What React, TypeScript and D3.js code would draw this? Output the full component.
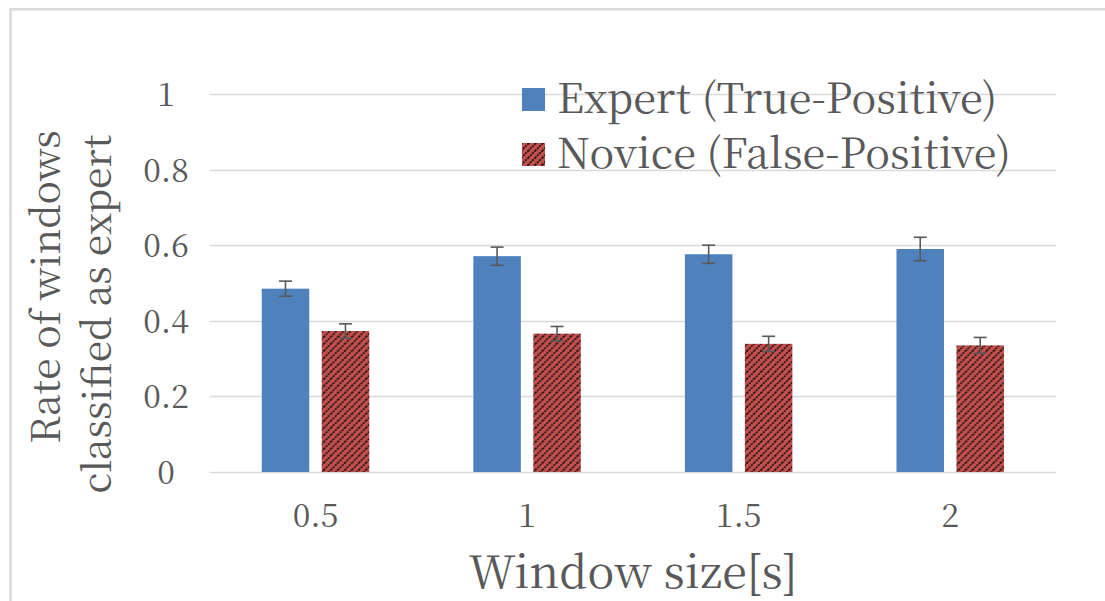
import React from "react";
import * as d3 from "d3";

// Window sizes (seconds) on the x axis
const categories = ["0.5", "1", "1.5", "2"];
const seriesNames = ["Expert (True-Positive)", "Novice (False-Positive)"];
// Mean rate of windows classified as expert, per window size
const expertValues = [0.485, 0.571, 0.576, 0.59];
const noviceValues = [0.373, 0.366, 0.339, 0.335];
// Half-height of the error bars
const expertErrors = [0.02, 0.024, 0.024, 0.031];
const noviceErrors = [0.019, 0.019, 0.02, 0.021];
const yTicks = [0, 0.2, 0.4, 0.6, 0.8, 1];

const W = 1105;
const H = 601;
const FONT = '"Noto Serif CJK JP"';
const TEXT = "#595959";
const BLUE = "#4f81bd";
const RED = "#c0504d";

export default function App() {
  const x0 = d3
    .scaleBand<string>()
    .domain(categories)
    .range([209.7, 1056])
    .paddingInner(0.492)
    .paddingOuter(0.246);
  const x1 = d3
    .scaleBand<number>()
    .domain([0, 1])
    .range([0, x0.bandwidth()])
    .paddingInner(0.208)
    .paddingOuter(0);
  const y = d3.scaleLinear().domain([0, 1]).range([472, 94]);

  const series = [
    { values: expertValues, errors: expertErrors, fill: BLUE },
    { values: noviceValues, errors: noviceErrors, fill: "url(#novicePattern)" },
  ];
  const [xMin, xMax] = x0.range();
  const midX = (xMin + xMax) / 2;
  const txt = { fontFamily: FONT };

  return (
    <svg
      width={W}
      height={H}
      style={{ position: "absolute", left: 0, top: 0, background: "#fff" }}
    >
      <defs>
        <pattern
          id="novicePattern"
          patternUnits="userSpaceOnUse"
          width={7}
          height={7}
        >
          <rect width={7} height={7} fill={RED} />
          <path
            d="M-1,8 L8,-1 M-1,1 L1,-1 M6,8 L8,6"
            stroke="#1a0a0a"
            strokeWidth={1.6}
            strokeDasharray="2 1"
          />
        </pattern>
      </defs>

      {/* chart frame */}
      <path d={`M10.5,${H} V9.3 H${W}`} fill="none" stroke="#d9d9d9" strokeWidth={2.5} />

      {/* gridlines */}
      {yTicks.map((t) => (
        <line
          key={t}
          x1={xMin}
          x2={xMax}
          y1={Math.round(y(t)) + 0.5}
          y2={Math.round(y(t)) + 0.5}
          stroke="#d9d9d9"
          strokeWidth={1.3}
        />
      ))}

      {/* y tick labels */}
      {yTicks.map((t) => (
        <text
          key={t}
          x={166}
          y={y(t) + 12}
          textAnchor="middle"
          fontSize={32}
          fill={TEXT}
          style={txt}
        >
          {d3.format("~g")(t)}
        </text>
      ))}

      {/* bars */}
      {categories.map((c, i) => (
        <g key={c} transform={`translate(${x0(c)},0)`}>
          {series.map((s, k) => (
            <rect
              key={k}
              x={x1(k)}
              y={y(s.values[i])}
              width={x1.bandwidth()}
              height={y(0) - y(s.values[i])}
              fill={s.fill}
            />
          ))}
        </g>
      ))}

      {/* error bars */}
      {categories.map((c, i) => (
        <g key={c} transform={`translate(${x0(c)},0)`} stroke="#595959" strokeWidth={1.6}>
          {series.map((s, k) => {
            const cx = (x1(k) as number) + x1.bandwidth() / 2;
            const top = y(s.values[i] + s.errors[i]);
            const bot = y(s.values[i] - s.errors[i]);
            return (
              <g key={k}>
                <line x1={cx} x2={cx} y1={top} y2={bot} />
                <line x1={cx - 6.5} x2={cx + 6.5} y1={top} y2={top} />
                <line x1={cx - 6.5} x2={cx + 6.5} y1={bot} y2={bot} />
              </g>
            );
          })}
        </g>
      ))}

      {/* x tick labels */}
      {categories.map((c) => (
        <text
          key={c}
          x={(x0(c) as number) + x0.bandwidth() / 2}
          y={527}
          textAnchor="middle"
          fontSize={32}
          fill={TEXT}
          style={txt}
        >
          {c}
        </text>
      ))}

      {/* axis titles */}
      <text x={midX} y={588} textAnchor="middle" fontSize={45} fill={TEXT} style={txt}>
        Window size[s]
      </text>
      <text
        transform="translate(60,287) rotate(-90)"
        textAnchor="middle"
        fontSize={39}
        fill={TEXT}
        style={txt}
      >
        Rate of windows
      </text>
      <text
        transform="translate(111,314) rotate(-90)"
        textAnchor="middle"
        fontSize={39}
        fill={TEXT}
        style={txt}
      >
        classified as expert
      </text>

      {/* legend */}
      {seriesNames.map((name, k) => (
        <g key={name} transform={`translate(522,${88 + k * 55})`}>
          <rect width={23} height={23} fill={series[k].fill} />
          <text x={35} y={25} fontSize={41.5} fill={TEXT} style={txt}>
            {name}
          </text>
        </g>
      ))}
    </svg>
  );
}
